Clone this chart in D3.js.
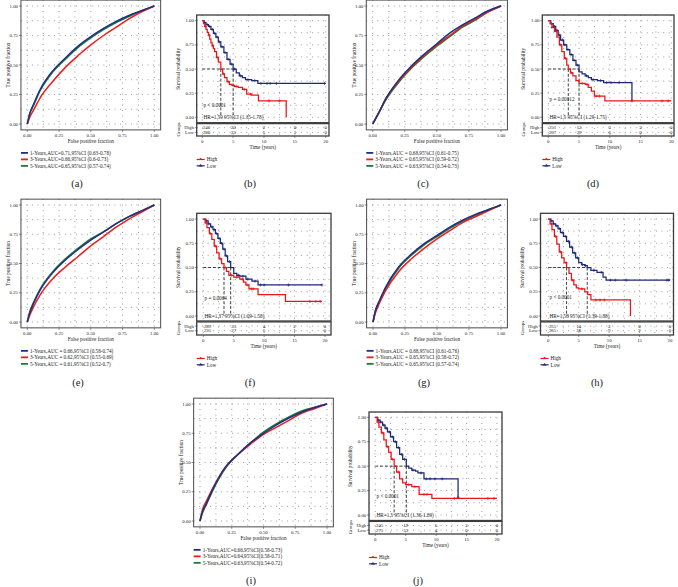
<!DOCTYPE html>
<html><head><meta charset="utf-8">
<script src="https://cdn.jsdelivr.net/npm/d3@7"></script>
<style>body{margin:0;background:#fff} svg{display:block} text{font-family:"Liberation Serif","DejaVu Serif",serif;fill:#222}</style>
</head><body><svg id="c" width="678" height="587"></svg>
<script>
// ---------- ROC data ----------
const rocFpr = [0, 0.02, 0.05, 0.1, 0.2, 0.3, 0.4, 0.5, 0.6, 0.7, 0.8, 0.9, 1];
const rocTicks = [0, 0.25, 0.5, 0.75, 1];
const rocTickLabels = ["0.00", "0.25", "0.50", "0.75", "1.00"];
const rocSeriesNames = ["1-Years", "3-Years", "5-Years"];

const rocA1 = [0, 0.09, 0.17, 0.29, 0.45, 0.56, 0.66, 0.74, 0.81, 0.87, 0.92, 0.96, 1];
const rocA3 = [0, 0.06, 0.12, 0.22, 0.36, 0.48, 0.58, 0.67, 0.75, 0.82, 0.89, 0.95, 1];
const rocA5 = [0, 0.09, 0.16, 0.28, 0.44, 0.55, 0.65, 0.73, 0.80, 0.86, 0.91, 0.96, 1];
const rocALegend = ["1-Years,AUC=0.71,95%CI (0.63-0.78)", "3-Years,AUC=0.66,95%CI (0.6-0.73)", "5-Years,AUC=0.65,95%CI (0.57-0.74)"];

const rocC1 = [0, 0.04, 0.10, 0.21, 0.37, 0.49, 0.59, 0.68, 0.77, 0.84, 0.90, 0.96, 1];
const rocC3 = [0, 0.04, 0.10, 0.21, 0.36, 0.48, 0.58, 0.67, 0.75, 0.83, 0.89, 0.95, 1];
const rocC5 = [0, 0.04, 0.10, 0.20, 0.35, 0.47, 0.57, 0.66, 0.74, 0.82, 0.88, 0.95, 1];
const rocCLegend = ["1-Years,AUC = 0.68,95%CI (0.61-0.75)", "3-Years,AUC = 0.65,95%CI (0.59-0.72)", "5-Years,AUC = 0.63,95%CI (0.54-0.73)"];

const rocE1 = [0, 0.08, 0.16, 0.27, 0.42, 0.53, 0.62, 0.70, 0.77, 0.84, 0.90, 0.95, 1];
const rocE3 = [0, 0.06, 0.13, 0.23, 0.37, 0.47, 0.56, 0.65, 0.73, 0.81, 0.88, 0.94, 1];
const rocE5 = [0, 0.09, 0.17, 0.28, 0.43, 0.54, 0.63, 0.71, 0.77, 0.84, 0.90, 0.95, 1];
const rocELegend = ["1-Years,AUC = 0.66,95%CI (0.58-0.74)", "3-Years,AUC = 0.62,95%CI (0.55-0.69)", "5-Years,AUC = 0.61,95%CI (0.52-0.7)"];

const rocG1 = [0, 0.10, 0.18, 0.30, 0.47, 0.58, 0.67, 0.74, 0.81, 0.87, 0.92, 0.96, 1];
const rocG3 = [0, 0.08, 0.16, 0.27, 0.43, 0.54, 0.63, 0.71, 0.78, 0.85, 0.90, 0.95, 1];
const rocG5 = [0, 0.10, 0.18, 0.29, 0.46, 0.57, 0.66, 0.73, 0.80, 0.86, 0.91, 0.96, 1];
const rocGLegend = ["1-Years,AUC = 0.68,95%CI (0.61-0.76)", "3-Years,AUC = 0.65,95%CI (0.58-0.72)", "5-Years,AUC = 0.65,95%CI (0.57-0.74)"];

const rocI1 = [0, 0.08, 0.15, 0.27, 0.46, 0.57, 0.67, 0.75, 0.82, 0.88, 0.93, 0.97, 1];
const rocI3 = [0, 0.10, 0.17, 0.28, 0.46, 0.57, 0.66, 0.74, 0.80, 0.86, 0.92, 0.96, 1];
const rocI5 = [0, 0.07, 0.14, 0.26, 0.45, 0.57, 0.67, 0.76, 0.83, 0.89, 0.94, 0.97, 1];
const rocILegend = ["1-Years,AUC=0.66,95%CI(0.58-0.73)", "3-Years,AUC=0.64,95%CI(0.58-0.71)", "5-Years,AUC=0.63,95%CI(0.54-0.72)"];

// ---------- KM data ----------
const kmTicks = [0, 5, 10, 15, 20];
const kmYTicks = [0, 0.25, 0.5, 0.75, 1];
const kmYTickLabels = ["0.00", "0.25", "0.50", "0.75", "1.00"];
const kmGroups = ["High", "Low"];

const kmBHighT = [0, 0.2, 0.4, 0.6, 0.8, 1.0, 1.2, 1.4, 1.6, 1.8, 2.0, 2.3, 2.6, 3.0, 3.3, 3.6, 4.0, 4.4, 4.8, 5.2, 5.8, 6.5, 7.2, 8.0, 9.1, 13.6];
const kmBHighS = [1, 0.97, 0.94, 0.91, 0.88, 0.85, 0.81, 0.77, 0.74, 0.71, 0.68, 0.62, 0.57, 0.50, 0.45, 0.41, 0.37, 0.34, 0.33, 0.32, 0.31, 0.29, 0.24, 0.23, 0.17, 0];
const kmBHighCens = [0.5, 1.1, 1.7, 2.4, 3.4, 4.2, 5.5, 6.8, 7.8, 10.8, 12.5];
const kmBLowT = [0, 0.3, 0.6, 1.0, 1.4, 1.8, 2.2, 2.6, 3.0, 3.5, 4.0, 4.5, 5.0, 5.5, 6.0, 6.5, 7.0, 8.0, 9.0, 20];
const kmBLowS = [1, 0.98, 0.96, 0.94, 0.91, 0.87, 0.83, 0.78, 0.73, 0.67, 0.60, 0.55, 0.50, 0.46, 0.43, 0.41, 0.39, 0.38, 0.35, 0.35];
const kmBLowCens = [0.4, 0.8, 1.2, 1.6, 2.0, 2.4, 2.8, 3.2, 3.7, 4.2, 4.7, 5.2, 6.2, 7.4, 8.5, 9.5, 10.5, 11, 12, 19.8];
const kmBRiskHigh = ["240", "20", "2", "0", "0"];
const kmBRiskLow = ["280", "33", "5", "1", "0"];
const kmBMedians = [3.0, 5.0];
const kmBP = "p < 0.0001";
const kmBHR = "HR=1.59 95%CI (1.35-1.78)";

const kmDHighT = [0, 0.3, 0.6, 1.0, 1.4, 1.8, 2.2, 2.6, 3.0, 3.25, 3.6, 4.0, 4.5, 5.0, 6.0, 6.5, 7.0, 7.5, 9.2, 20];
const kmDHighS = [1, 0.97, 0.93, 0.89, 0.83, 0.75, 0.68, 0.61, 0.54, 0.50, 0.46, 0.43, 0.38, 0.35, 0.34, 0.31, 0.27, 0.22, 0.17, 0.17];
const kmDHighCens = [0.6, 1.3, 2.0, 2.8, 3.8, 5.5, 6.3, 7.8, 8.3, 18.5, 19.5];
const kmDLowT = [0, 0.4, 0.8, 1.2, 1.6, 2.0, 2.5, 3.0, 3.5, 4.0, 4.5, 5.0, 5.5, 6.0, 6.5, 7.0, 8.0, 9.0, 13.6];
const kmDLowS = [1, 0.97, 0.94, 0.90, 0.85, 0.80, 0.75, 0.70, 0.65, 0.59, 0.54, 0.47, 0.45, 0.43, 0.41, 0.39, 0.38, 0.36, 0.17];
const kmDLowCens = [0.5, 1.0, 1.4, 1.8, 2.3, 2.7, 3.2, 3.7, 4.2, 4.7, 6.2, 7.3, 8.5, 9.5, 10.2, 11.5, 13.6];
const kmDRiskHigh = ["251", "13", "3", "3", "0"];
const kmDRiskLow = ["267", "29", "6", "0", "0"];
const kmDMedians = [3.25, 5.0];
const kmDP = "p = 0.00012";
const kmDHR = "HR=1.5 95%CI (1.29-1.75)";

const kmFHighT = [0, 0.3, 0.6, 1.0, 1.4, 1.8, 2.2, 2.6, 3.0, 3.4, 3.8, 4.2, 5.0, 6.0, 6.6, 7.0, 7.5, 9.0, 13.5, 19.5];
const kmFHighS = [1, 0.96, 0.91, 0.85, 0.79, 0.72, 0.65, 0.59, 0.54, 0.50, 0.46, 0.42, 0.40, 0.38, 0.35, 0.32, 0.28, 0.22, 0.15, 0.15];
const kmFHighCens = [0.5, 1.2, 2.0, 2.8, 3.6, 4.6, 5.5, 6.4, 7.2, 7.9, 8.2, 17.5, 18.5, 19.2];
const kmFLowT = [0, 0.4, 0.8, 1.2, 1.6, 2.0, 2.4, 2.8, 3.2, 3.6, 4.0, 4.5, 5.0, 5.5, 6.0, 7.0, 8.0, 9.0, 19.5];
const kmFLowS = [1, 0.98, 0.95, 0.92, 0.89, 0.85, 0.80, 0.75, 0.69, 0.62, 0.56, 0.50, 0.44, 0.42, 0.41, 0.38, 0.36, 0.32, 0.32];
const kmFLowCens = [0.5, 0.9, 1.4, 1.8, 2.2, 2.6, 3.0, 3.4, 3.8, 4.3, 5.8, 6.5, 7.3, 8.5, 9.4, 10.0, 14.0, 19.5];
const kmFRiskHigh = ["289", "25", "4", "2", "0"];
const kmFRiskLow = ["231", "27", "5", "1", "0"];
const kmFMedians = [3.4, 4.5];
const kmFP = "p = 0.0064";
const kmFHR = "HR=1.37 95%CI (1.09-1.58)";

const kmHHighT = [0, 0.3, 0.6, 1.0, 1.4, 1.8, 2.2, 2.6, 3.0, 3.4, 3.8, 4.2, 4.6, 5.0, 6.0, 6.5, 7.0, 13.5];
const kmHHighS = [1, 0.95, 0.89, 0.82, 0.74, 0.66, 0.60, 0.55, 0.50, 0.44, 0.37, 0.32, 0.29, 0.28, 0.25, 0.22, 0.165, 0];
const kmHHighCens = [0.5, 1.2, 2.0, 2.9, 4.0, 5.5, 7.8, 8.5, 9.2];
const kmHLowT = [0, 0.4, 0.8, 1.2, 1.6, 2.0, 2.5, 3.0, 3.5, 4.0, 4.5, 5.0, 5.5, 6.0, 6.4, 7.0, 8.0, 9.0, 9.5, 20];
const kmHLowS = [1, 0.98, 0.95, 0.93, 0.90, 0.86, 0.82, 0.77, 0.71, 0.65, 0.60, 0.55, 0.53, 0.52, 0.50, 0.47, 0.45, 0.40, 0.37, 0.37];
const kmHLowCens = [0.5, 0.9, 1.4, 1.8, 2.3, 2.8, 3.3, 3.8, 4.3, 4.8, 5.6, 6.1, 7.5, 8.7, 10.2, 11.0, 12.8, 19.5, 19.8];
const kmHRiskHigh = ["255", "14", "3", "0", "0"];
const kmHRiskLow = ["265", "38", "9", "2", "0"];
const kmHMedians = [3.0, 6.4];
const kmHP = "p < 0.0001";
const kmHHR = "HR=1.58 95%CI (1.39-1.88)";

const kmJHighT = [0, 0.3, 0.6, 1.0, 1.4, 1.8, 2.2, 2.6, 3.1, 3.5, 4.0, 4.5, 5.0, 6.0, 7.2, 9.3, 20];
const kmJHighS = [1, 0.95, 0.90, 0.84, 0.77, 0.70, 0.64, 0.57, 0.50, 0.44, 0.37, 0.33, 0.31, 0.29, 0.21, 0.17, 0.17];
const kmJHighCens = [0.5, 1.2, 2.0, 2.8, 3.8, 5.5, 6.5, 8.0, 8.5, 13.0, 18.5, 19.5];
const kmJLowT = [0, 0.4, 0.8, 1.2, 1.6, 2.0, 2.5, 3.0, 3.5, 4.0, 4.5, 5.1, 5.5, 6.0, 6.6, 7.0, 8.0, 13.6];
const kmJLowS = [1, 0.97, 0.95, 0.92, 0.89, 0.85, 0.80, 0.75, 0.69, 0.62, 0.57, 0.50, 0.48, 0.46, 0.45, 0.43, 0.37, 0.18];
const kmJLowCens = [0.5, 0.9, 1.4, 1.8, 2.3, 2.8, 3.3, 3.8, 4.3, 4.8, 6.2, 7.5, 8.4, 9.0, 9.8, 11, 13.6];
const kmJRiskHigh = ["245", "19", "5", "3", "0"];
const kmJRiskLow = ["275", "33", "4", "0", "0"];
const kmJMedians = [3.1, 5.1];
const kmJP = "p < 0.0001";
const kmJHR = "HR=1.5 95%CI (1.36-1.89)";

const panelLabels = ["(a)", "(b)", "(c)", "(d)", "(e)", "(f)", "(g)", "(h)", "(i)", "(j)"];

// ---------- drawing ----------
const svg = d3.select("#c");
const ROC_COLORS = ["#1f2f86", "#ee1c1c", "#1d7b33"];
const KM_COLORS = { High: "#e8161b", Low: "#1d2a78" };
const GRID = "#888";

function dottedGrid(g, xs, ys, x, y, xr, yr) {
  g.selectAll(null).data(xs).join("line")
    .attr("x1", d => x(d)).attr("x2", d => x(d)).attr("y1", yr[0]).attr("y2", yr[1])
    .attr("stroke", GRID).attr("stroke-width", 0.9).attr("stroke-dasharray", "0.9,4.6");
  g.selectAll(null).data(ys).join("line")
    .attr("y1", d => y(d)).attr("y2", d => y(d)).attr("x1", xr[0]).attr("x2", xr[1])
    .attr("stroke", GRID).attr("stroke-width", 0.9).attr("stroke-dasharray", "0.9,4.6");
}

function rocPanel(p) {
  const g = svg.append("g");
  const x = d3.scaleLinear().domain([-0.05, 1.05]).range([p.x0 - 0.05 * p.w, p.x0 + 1.05 * p.w]);
  const y = d3.scaleLinear().domain([-0.05, 1.05]).range([p.y1 + 1.05 * p.h, p.y1 - 0.05 * p.h]);
  const [L, R] = x.range(), [B, T] = y.range();
  const gridv = d3.range(0, 1.0001, 0.125);
  dottedGrid(g, gridv, gridv, x, y, [L, R], [T, B]);
  const line = d3.line().x((d, i) => x(rocFpr[i])).y(d => y(d)).curve(d3.curveMonotoneX);
  [p.s5, p.s3, p.s1].forEach((s, k) => {
    g.append("path").attr("d", line(s)).attr("fill", "none")
      .attr("stroke", ROC_COLORS[2 - k]).attr("stroke-width", 1.5);
  });
  g.append("rect").attr("x", L).attr("y", T).attr("width", R - L).attr("height", B - T)
    .attr("fill", "none").attr("stroke", "#4a4a4a").attr("stroke-width", 1);
  g.selectAll(null).data(rocTicks).join("line")
    .attr("x1", L - 2).attr("x2", L).attr("y1", d => y(d)).attr("y2", d => y(d)).attr("stroke", "#444").attr("stroke-width", 0.6);
  g.selectAll(null).data(rocTicks).join("text")
    .attr("x", L - 3).attr("y", d => y(d) + 1.6).attr("text-anchor", "end").attr("font-size", 4.8)
    .text((d, i) => rocTickLabels[i]);
  g.selectAll(null).data(rocTicks).join("line")
    .attr("y1", B).attr("y2", B + 2).attr("x1", d => x(d)).attr("x2", d => x(d)).attr("stroke", "#444").attr("stroke-width", 0.6);
  g.selectAll(null).data(rocTicks).join("text")
    .attr("x", d => x(d)).attr("y", B + 7).attr("text-anchor", "middle").attr("font-size", 4.8)
    .text((d, i) => rocTickLabels[i]);
  g.append("text").attr("x", (L + R) / 2).attr("y", B + 13.5).attr("text-anchor", "middle").attr("font-size", 5.2)
    .text("False positive fraction");
  g.append("text").attr("transform", `translate(${L - 10.5},${(T + B) / 2}) rotate(-90)`).attr("text-anchor", "middle").attr("font-size", 5.2)
    .text("True positive fraction");
  p.legend.forEach((t, i) => {
    const ly = B + 23 + i * 6.5;
    g.append("line").attr("x1", L).attr("x2", L + 7).attr("y1", ly).attr("y2", ly)
      .attr("stroke", ROC_COLORS[i]).attr("stroke-width", 1.8);
    g.append("text").attr("x", L + 9).attr("y", ly + 1.7).attr("font-size", 5.2).text(t);
  });
  svg.append("text").attr("x", p.lx).attr("y", p.ly).attr("text-anchor", "middle").attr("font-size", 10.5).text(p.label);
}

function stepY(T, S, t) {
  let k = 0;
  for (let i = 0; i < T.length; i++) if (T[i] <= t) k = i;
  return S[k];
}

function kmPanel(p) {
  const g = svg.append("g");
  const x = d3.scaleLinear().domain([0, 20]).range([p.x0, p.x20]);
  const y = d3.scaleLinear().domain([0, 1]).range([p.yb, p.yt]);
  const L = p.fl, R = p.fr, T = p.ft, MB = p.fmb, TB = p.ftb;
  const gx = d3.range(0, 20.01, 2.5), gy = d3.range(0, 1.0001, 0.125);
  dottedGrid(g, gx, gy, x, y, [L, R], [T, MB]);
  dottedGrid(g, gx, [], x, y, [L, R], [MB, TB]);
  const rowY = [MB + 5, MB + 9.7];
  g.selectAll(null).data(rowY).join("line").attr("x1", L).attr("x2", R).attr("y1", d => d).attr("y2", d => d)
    .attr("stroke", GRID).attr("stroke-width", 0.9).attr("stroke-dasharray", "0.9,4.6");
  const mMax = d3.max(p.med);
  g.append("line").attr("x1", x(0)).attr("x2", x(mMax)).attr("y1", y(0.5)).attr("y2", y(0.5))
    .attr("stroke", "#111").attr("stroke-width", 0.8).attr("stroke-dasharray", "3,1.8");
  g.selectAll(null).data(p.med).join("line").attr("x1", d => x(d)).attr("x2", d => x(d)).attr("y1", y(0.5)).attr("y2", y(0))
    .attr("stroke", "#111").attr("stroke-width", 0.8).attr("stroke-dasharray", "3,1.8");
  const line = d3.line().x(d => x(d[0])).y(d => y(d[1])).curve(d3.curveStepAfter);
  const groups = [["Low", p.lowT, p.lowS, p.lowC], ["High", p.highT, p.highS, p.highC]];
  groups.forEach(([name, Tt, Ss, Cc]) => {
    g.append("path").attr("d", line(Tt.map((t, i) => [t, Ss[i]]))).attr("fill", "none")
      .attr("stroke", KM_COLORS[name]).attr("stroke-width", 1.25);
    Cc.forEach(c => {
      const cx = x(c), cy = y(stepY(Tt, Ss, c));
      g.append("path").attr("d", `M${cx - 1.5},${cy}H${cx + 1.5}M${cx},${cy - 1.5}V${cy + 1.5}`)
        .attr("stroke", KM_COLORS[name]).attr("stroke-width", 0.7);
    });
  });
  g.append("text").attr("x", x(0.2)).attr("y", y(p.pY) + 1.7).attr("font-size", 5.2).text(p.pText);
  g.append("text").attr("x", x(0.2)).attr("y", y(0) + 1.7).attr("font-size", 5.2).text(p.hr);
  g.append("rect").attr("x", L).attr("y", T).attr("width", R - L).attr("height", MB - T)
    .attr("fill", "none").attr("stroke", "#3c3c3c").attr("stroke-width", 1.3);
  g.append("rect").attr("x", L).attr("y", MB + 0.9).attr("width", R - L).attr("height", TB - MB - 0.9)
    .attr("fill", "none").attr("stroke", "#3c3c3c").attr("stroke-width", 1.3);
  g.selectAll(null).data(kmYTicks).join("line").attr("x1", L - 2).attr("x2", L).attr("y1", d => y(d)).attr("y2", d => y(d))
    .attr("stroke", "#444").attr("stroke-width", 0.6);
  g.selectAll(null).data(kmYTicks).join("text").attr("x", L - 2.8).attr("y", d => y(d) + 1.6)
    .attr("text-anchor", "end").attr("font-size", 4.8).text((d, i) => kmYTickLabels[i]);
  g.append("text").attr("transform", `translate(${L - 17},${(T + MB) / 2}) rotate(-90)`).attr("text-anchor", "middle")
    .attr("font-size", 5.2).text("Survival probability");
  const risks = [p.riskHigh, p.riskLow];
  kmGroups.forEach((gname, r) => {
    g.append("text").attr("x", L - 2.8).attr("y", rowY[r] + 1.6).attr("text-anchor", "end").attr("font-size", 4.8).text(gname);
    g.append("line").attr("x1", L - 2).attr("x2", L).attr("y1", rowY[r]).attr("y2", rowY[r]).attr("stroke", "#444").attr("stroke-width", 0.6);
    risks[r].forEach((v, i) => {
      g.append("text").attr("x", i === 0 ? x(kmTicks[i]) + 0.6 : x(kmTicks[i])).attr("y", rowY[r] + 1.6)
        .attr("text-anchor", i === 0 ? "start" : "middle").attr("font-size", 4.8).text(v);
    });
  });
  g.append("text").attr("transform", `translate(${L - 17},${(MB + TB) / 2}) rotate(-90)`).attr("text-anchor", "middle")
    .attr("font-size", 4.8).text("Groups");
  g.selectAll(null).data(kmTicks).join("line").attr("x1", d => x(d)).attr("x2", d => x(d)).attr("y1", TB).attr("y2", TB + 2)
    .attr("stroke", "#444").attr("stroke-width", 0.6);
  g.selectAll(null).data(kmTicks).join("text").attr("x", d => x(d)).attr("y", TB + 6.8).attr("text-anchor", "middle")
    .attr("font-size", 4.8).text(d => d);
  g.append("text").attr("x", (L + R) / 2).attr("y", TB + 13.3).attr("text-anchor", "middle").attr("font-size", 5.2).text("Time (years)");
  kmGroups.forEach((gname, i) => {
    const ly = TB + 23.5 + i * 6.3;
    g.append("line").attr("x1", L).attr("x2", L + 8).attr("y1", ly).attr("y2", ly).attr("stroke", KM_COLORS[gname]).attr("stroke-width", 1.2);
    g.append("path").attr("d", `M${L + 4},${ly - 1.8}L${L + 6},${ly + 0.6}L${L + 2},${ly + 0.6}Z`).attr("fill", KM_COLORS[gname]);
    g.append("text").attr("x", L + 10).attr("y", ly + 1.7).attr("font-size", 5.2).text(gname);
  });
  svg.append("text").attr("x", p.lx).attr("y", p.ly).attr("text-anchor", "middle").attr("font-size", 10.5).text(p.label);
}

rocPanel({ x0: 27.3, w: 127, y1: 6, h: 118, s1: rocA1, s3: rocA3, s5: rocA5, legend: rocALegend, label: panelLabels[0], lx: 77, ly: 187 });
rocPanel({ x0: 372.7, w: 128.3, y1: 6, h: 118, s1: rocC1, s3: rocC3, s5: rocC5, legend: rocCLegend, label: panelLabels[2], lx: 423, ly: 187 });
rocPanel({ x0: 27.3, w: 127, y1: 205, h: 117, s1: rocE1, s3: rocE3, s5: rocE5, legend: rocELegend, label: panelLabels[4], lx: 78, ly: 386 });
rocPanel({ x0: 373, w: 128, y1: 205, h: 117, s1: rocG1, s3: rocG3, s5: rocG5, legend: rocGLegend, label: panelLabels[6], lx: 424, ly: 386 });
rocPanel({ x0: 200, w: 127, y1: 404, h: 117, s1: rocI1, s3: rocI3, s5: rocI5, legend: rocILegend, label: panelLabels[8], lx: 251, ly: 584 });

kmPanel({ x0: 202.3, x20: 325.7, yt: 20.7, yb: 117.3, fl: 196.7, fr: 329, ft: 15, fmb: 122.7, ftb: 136,
  highT: kmBHighT, highS: kmBHighS, highC: kmBHighCens, lowT: kmBLowT, lowS: kmBLowS, lowC: kmBLowCens,
  riskHigh: kmBRiskHigh, riskLow: kmBRiskLow, med: kmBMedians, pText: kmBP, pY: 0.12, hr: kmBHR, label: panelLabels[1], lx: 250, ly: 187 });
kmPanel({ x0: 548.3, x20: 671.3, yt: 20.7, yb: 117.3, fl: 542.3, fr: 674, ft: 15, fmb: 122.7, ftb: 136,
  highT: kmDHighT, highS: kmDHighS, highC: kmDHighCens, lowT: kmDLowT, lowS: kmDLowS, lowC: kmDLowCens,
  riskHigh: kmDRiskHigh, riskLow: kmDRiskLow, med: kmDMedians, pText: kmDP, pY: 0.19, hr: kmDHR, label: panelLabels[3], lx: 593, ly: 187 });
kmPanel({ x0: 203.3, x20: 325, yt: 219, yb: 316, fl: 196.7, fr: 331, ft: 213.3, fmb: 321, ftb: 335,
  highT: kmFHighT, highS: kmFHighS, highC: kmFHighCens, lowT: kmFLowT, lowS: kmFLowS, lowC: kmFLowCens,
  riskHigh: kmFRiskHigh, riskLow: kmFRiskLow, med: kmFMedians, pText: kmFP, pY: 0.18, hr: kmFHR, label: panelLabels[5], lx: 250, ly: 386 });
kmPanel({ x0: 548.3, x20: 670, yt: 219, yb: 316, fl: 540.5, fr: 673.5, ft: 213.3, fmb: 321, ftb: 335,
  highT: kmHHighT, highS: kmHHighS, highC: kmHHighCens, lowT: kmHLowT, lowS: kmHLowS, lowC: kmHLowCens,
  riskHigh: kmHRiskHigh, riskLow: kmHRiskLow, med: kmHMedians, pText: kmHP, pY: 0.19, hr: kmHHR, label: panelLabels[7], lx: 597, ly: 386 });
kmPanel({ x0: 375.3, x20: 497, yt: 417.3, yb: 515, fl: 369, fr: 502, ft: 412, fmb: 520.5, ftb: 534,
  highT: kmJHighT, highS: kmJHighS, highC: kmJHighCens, lowT: kmJLowT, lowS: kmJLowS, lowC: kmJLowCens,
  riskHigh: kmJRiskHigh, riskLow: kmJRiskLow, med: kmJMedians, pText: kmJP, pY: 0.19, hr: kmJHR, label: panelLabels[9], lx: 418, ly: 584 });
</script></body></html>
